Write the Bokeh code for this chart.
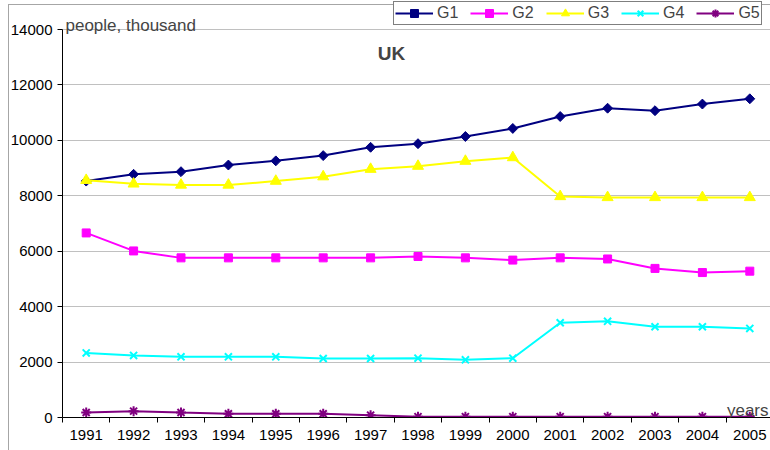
import math
from bokeh.plotting import figure
from bokeh.models import FixedTicker, Legend, LegendItem, Label, Range1d
from bokeh.embed import file_html
from bokeh.resources import INLINE

# ---- data ----
years = [1991, 1992, 1993, 1994, 1995, 1996, 1997, 1998, 1999, 2000,
         2001, 2002, 2003, 2004, 2005]
g1 = [8530, 8775, 8870, 9110, 9260, 9450, 9750, 9880, 10140, 10430,
      10860, 11160, 11070, 11310, 11500]
g2 = [6660, 6010, 5760, 5760, 5760, 5760, 5760, 5810, 5760, 5680,
      5760, 5720, 5380, 5230, 5280]
g3 = [8560, 8430, 8390, 8390, 8530, 8690, 8960, 9070, 9250, 9380,
      7975, 7940, 7940, 7940, 7940]
g4 = [2330, 2240, 2190, 2190, 2190, 2130, 2130, 2140, 2080, 2140,
      3420, 3470, 3275, 3275, 3215]
g5 = [180, 230, 180, 135, 135, 135, 85, 30, 30, 30,
      30, 30, 30, 30, 30]
series_names = ["G1", "G2", "G3", "G4", "G5"]
y_ticks = [0, 2000, 4000, 6000, 8000, 10000, 12000, 14000]
title_text = "UK"
y_title = "people, thousand"
x_title = "years"

FONT = "Liberation Sans"
PX_PER_UNIT = 388 / 14000.0  # frame: 14000 at y=29, 0 at y=417

p = figure(width=770, height=450, output_backend="svg", toolbar_location=None,
           x_range=Range1d(1990.5, 1990.5 + 708 / 47.4),
           y_range=Range1d(0, 417 / PX_PER_UNIT),
           min_border_left=62, min_border_right=0, min_border_top=0,
           min_border_bottom=33)
p.outline_line_color = None
p.background_fill_alpha = 0
p.border_fill_alpha = 0
# chart-area border (left and top edges visible in the reference), drawn as CSS background
p.styles = {
    "background-color": "white",
    "background-image": "linear-gradient(#a6a6a6,#a6a6a6), linear-gradient(#a6a6a6,#a6a6a6)",
    "background-repeat": "no-repeat",
    "background-position": "8px 4px, 8px 4px",
    "background-size": "1px 446px, 762px 1px",
}

# axes
p.xaxis.ticker = FixedTicker(ticks=years, minor_ticks=[y - 0.5 for y in years] + [years[-1] + 0.5])
p.xaxis.major_tick_line_color = None
p.xaxis.minor_tick_in = 0
p.xaxis.minor_tick_out = 5
p.xaxis.minor_tick_line_color = "black"
p.xaxis.major_label_standoff = 7
p.xaxis.major_tick_out = 5
p.yaxis.ticker = FixedTicker(ticks=y_ticks)
p.yaxis.bounds = (0, 14000)
p.yaxis.minor_tick_line_color = None
p.yaxis.major_tick_in = 0
p.yaxis.major_tick_out = 5
p.yaxis.major_label_standoff = 5
p.yaxis.major_tick_line_color = "black"
for ax in (p.xaxis, p.yaxis):
    ax.axis_line_color = "black"
    ax.axis_line_width = 1
    ax.major_label_text_font = FONT
    ax.major_label_text_font_size = "15px"
    ax.major_label_text_color = "black"

p.xgrid.grid_line_color = None
p.ygrid.grid_line_color = "#c0c0c0"
p.ygrid.grid_line_width = 1

series = [
    (g1, "#000080", dict(marker="square", size=7, angle=math.pi / 4)),
    (g2, "#FF00FF", dict(marker="square", size=8)),
    (g3, "#FFFF00", dict(marker="triangle", size=11)),
    (g4, "#00FFFF", dict(marker="x", size=10, line_width=2)),
    (g5, "#800080", dict(marker="asterisk", size=10, line_width=2)),
]
items = []
for name, (vals, col, mk) in zip(series_names, series):
    lr = p.line(years, vals, line_color=col, line_width=2)
    sr = p.scatter(years, vals, fill_color=col, line_color=col, **mk)
    items.append(LegendItem(label=name, renderers=[lr, sr]))

legend = Legend(items=items, orientation="horizontal", location=(331, 392),
                border_line_color="black", border_line_width=1,
                padding=1, margin=0, spacing=12, glyph_width=38, glyph_height=20,
                label_standoff=4, label_width=20, label_height=20,
                label_text_font=FONT, label_text_font_size="16px",
                background_fill_color="white", background_fill_alpha=1.0)
p.add_layout(legend, "center")

def dx(px):
    return 1990.5 + (px - 62) / 47.4

def dy(py):
    return (417 - py) / PX_PER_UNIT

p.add_layout(Label(x=dx(391), y=dy(53), text=title_text, text_font=FONT,
                   text_font_size="19px", text_font_style="bold",
                   text_align="center", text_baseline="middle"))
p.add_layout(Label(x=dx(65), y=dy(25), text=y_title, text_font=FONT,
                   text_font_size="17px", text_align="left",
                   text_baseline="alphabetic"))
p.add_layout(Label(x=dx(768), y=dy(410), text=x_title, text_font=FONT,
                   text_font_size="17px", text_align="right",
                   text_baseline="alphabetic"))

open("out.html", "w").write(file_html(p, INLINE))
